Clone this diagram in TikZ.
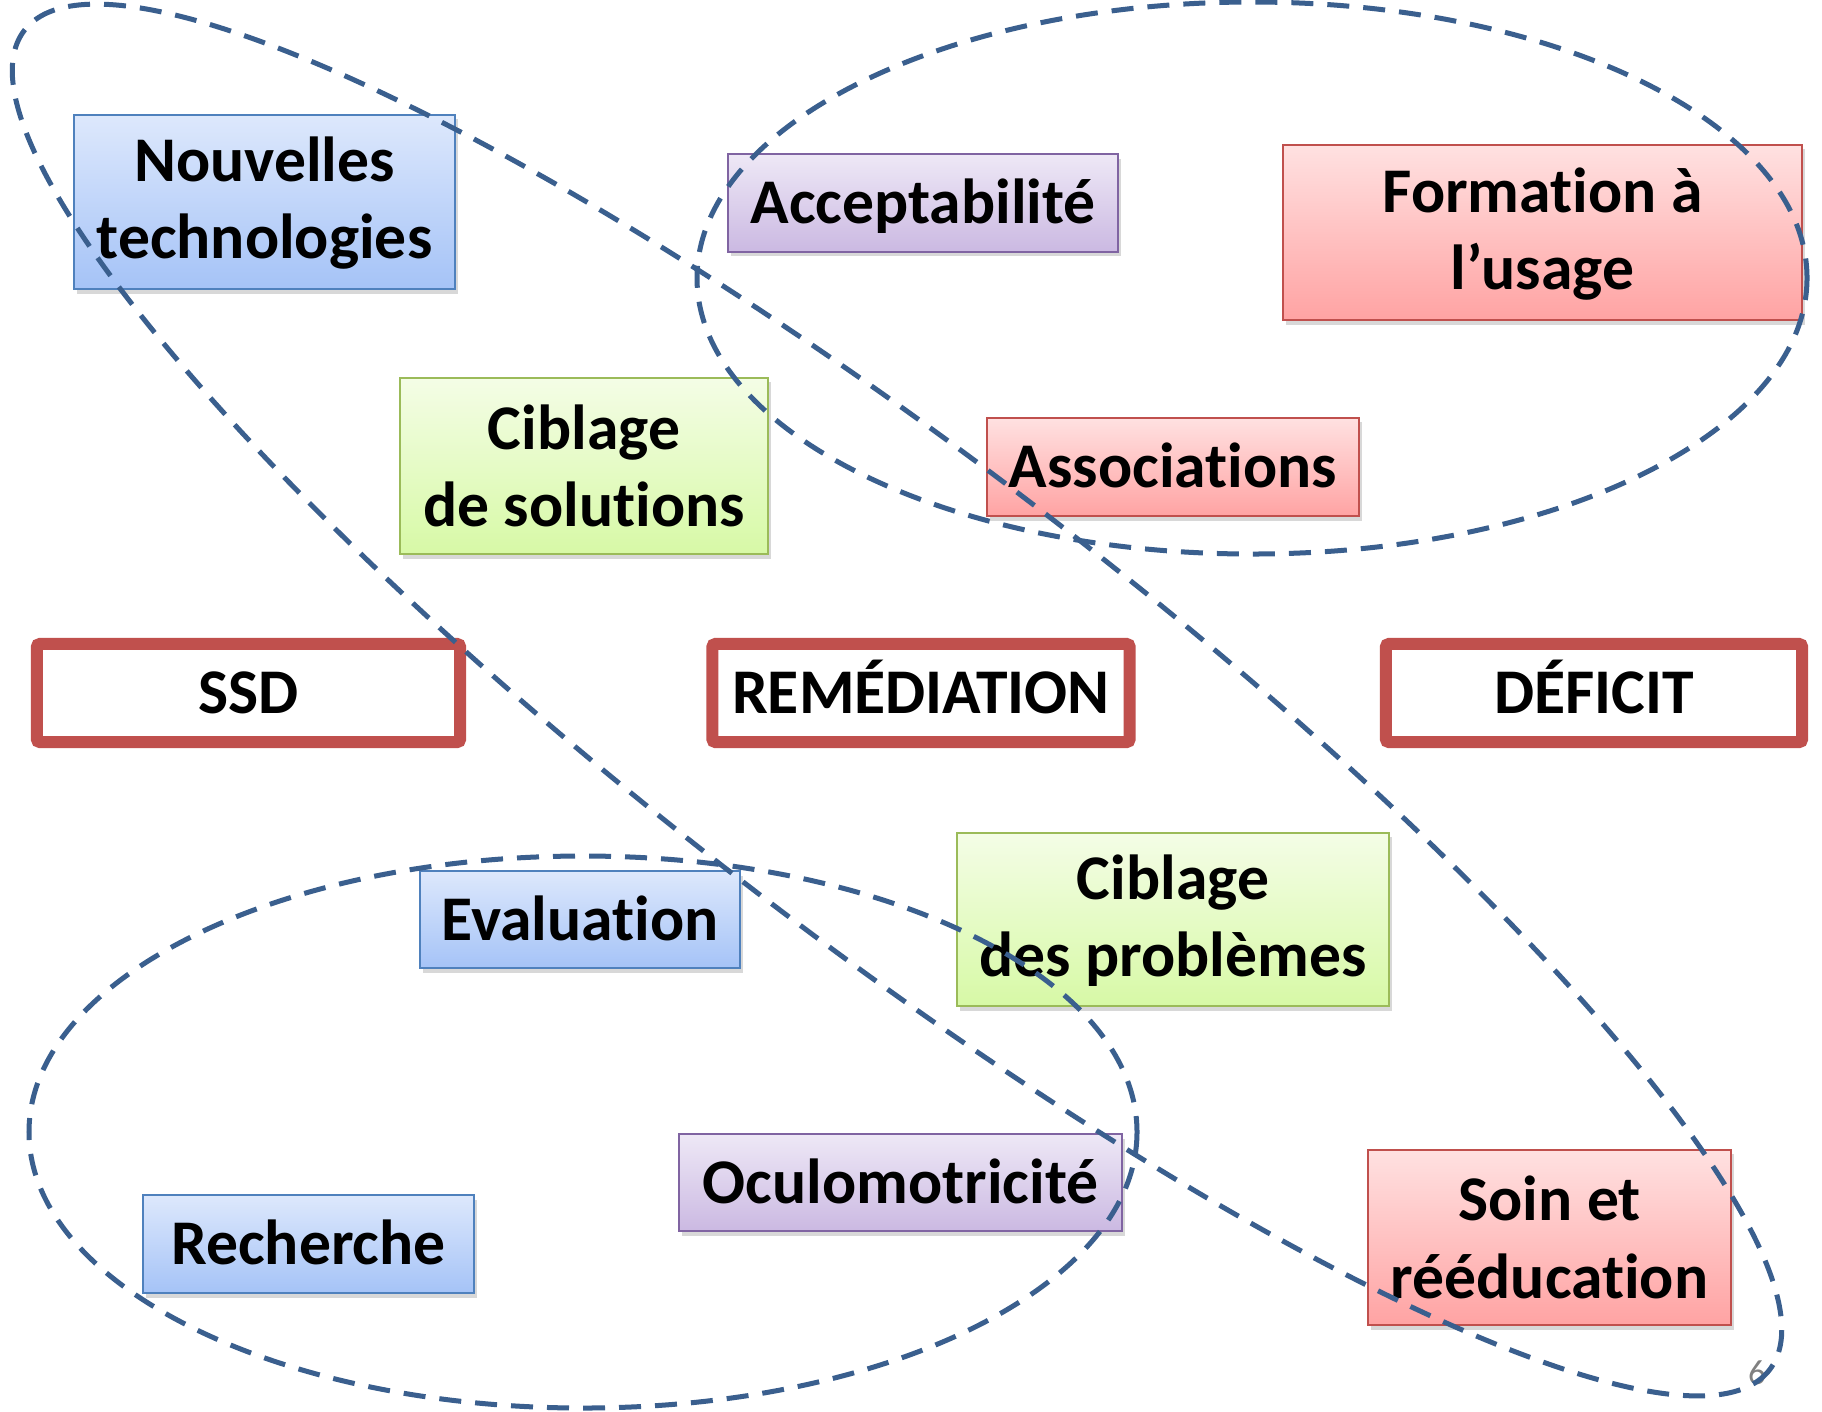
\documentclass[tikz,border=0pt]{standalone}
\usepackage{fontspec}
\setmainfont{Carlito}[Ligatures=NoCommon]
\usetikzlibrary{shadows}
\definecolor{ellc}{HTML}{3A5F8E}
\definecolor{blueB}{HTML}{4F81BD}\definecolor{blueT}{HTML}{DDE8FC}\definecolor{blueD}{HTML}{A5C3F7}
\definecolor{purB}{HTML}{8064A2}\definecolor{purT}{HTML}{EEE8F6}\definecolor{purD}{HTML}{CBB9E2}
\definecolor{redB}{HTML}{C0504D}\definecolor{redT}{HTML}{FFE1E1}\definecolor{redD}{HTML}{FFA3A3}
\definecolor{grnB}{HTML}{9BBB59}\definecolor{grnT}{HTML}{F4FDE6}\definecolor{grnD}{HTML}{D7F9A6}
\definecolor{frameC}{HTML}{C0504D}
\tikzset{
  box/.style={line width=0.02cm, inner sep=0pt, align=center,
    font=\bfseries\fontsize{18.1}{22}\selectfont,
    drop shadow={shadow xshift=0.03cm, shadow yshift=-0.045cm, opacity=0.3}},
  one/.style={text height=11.7pt, text depth=0pt},
  lowr/.style={text depth=2.3pt},
  bluebox/.style={box, draw=blueB, top color=blueT, bottom color=blueD},
  purbox/.style={box, draw=purB, top color=purT, bottom color=purD},
  redbox/.style={box, draw=redB, top color=redT, bottom color=redD},
  grnbox/.style={box, draw=grnB, top color=grnT, bottom color=grnD},
  framebox/.style={draw=frameC, line width=0.12cm, rounded corners=0.03cm, fill=white,
    inner sep=0pt, minimum height=0.98cm, one, font=\bfseries\fontsize{18.1}{22}\selectfont},
  ell/.style={draw=ellc, line width=0.05cm, dash pattern=on 0.22cm off 0.14cm},
}
\begin{document}
\begin{tikzpicture}[x=0.01cm, y=-0.01cm]
\useasboundingbox (0,0) rectangle (1822,1411);
\fill[white] (0,0) rectangle (1822,1411);
% boxes
\node[bluebox, lowr, minimum width=3.81cm, minimum height=1.74cm] (nt) at (264.5,202) {Nouvelles\\technologies};
\node[purbox, one, minimum width=3.89cm, minimum height=0.97cm] (acc) at (923,203) {Acceptabilité};
\node[redbox, lowr, minimum width=5.19cm, minimum height=1.75cm] (form) at (1542.5,232.5) {Formation à\\l’usage};
\node[grnbox, minimum width=3.68cm, minimum height=1.76cm] (cs) at (584,466) {Ciblage\\de solutions};
\node[redbox, one, minimum width=3.71cm, minimum height=0.98cm] (asso) at (1173,467) {Associations};
\node[framebox, minimum width=4.23cm] (ssd) at (248.5,693) {SSD};
\node[framebox, minimum width=4.17cm] (rem) at (921,693) {REMÉDIATION};
\node[framebox, minimum width=4.16cm] (def) at (1594,693) {DÉFICIT};
\node[bluebox, one, minimum width=3.20cm, minimum height=0.97cm] (eval) at (580,919.5) {Evaluation};
\node[grnbox, lowr, minimum width=4.32cm, minimum height=1.73cm] (cp) at (1173,919.5) {Ciblage\\des problèmes};
\node[purbox, one, minimum width=4.43cm, minimum height=0.97cm] (ocu) at (900.5,1182.5) {Oculomotricité};
\node[bluebox, one, minimum width=3.31cm, minimum height=0.98cm] (rech) at (308.5,1244) {Recherche};
\node[redbox, minimum width=3.62cm, minimum height=1.75cm] (soin) at (1549.5,1237.5) {Soin et\\rééducation};
\node[text=gray, font=\fontsize{10}{12}\selectfont, inner sep=0pt] (pg) at (1757,1373) {6};
% dashed ellipses
\draw[ell] (1252,278) ellipse [x radius=555, y radius=276];
\draw[ell] (583,1132) ellipse [x radius=554, y radius=276];
\draw[ell, rotate around={-37.5:(897,700)}] (897,700) ellipse [x radius=1100, y radius=238];
\end{tikzpicture}
\end{document}
